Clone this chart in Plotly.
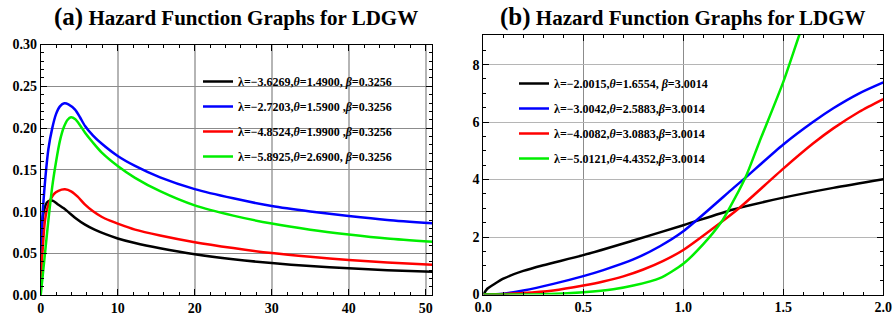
import plotly.graph_objects as go

# ---------------- data ----------------
# Panel (a)
a_black_x = [0, 0.05, 0.15, 0.3, 0.5, 0.8, 1.2, 1.6, 2.2, 3.0, 3.6, 4.5, 5.76, 7.0, 8.5, 10, 12.25, 15.5, 20, 25, 30, 35, 40, 45, 50.85]
a_black_y = [0, 0.05, 0.08, 0.095, 0.104, 0.111, 0.1135, 0.113, 0.109, 0.104, 0.0995, 0.0925, 0.0845, 0.0785, 0.0728, 0.068, 0.0625, 0.0563, 0.0492, 0.0432, 0.0385, 0.0350, 0.0323, 0.0300, 0.0282]

a_blue_x = [0, 0.05, 0.15, 0.3, 0.6, 1.0, 1.5, 2.0, 2.5, 3.07, 3.6, 4.46, 5.1, 5.76, 6.8, 7.9, 10, 12.25, 15.5, 20, 25, 30, 35, 40, 45, 50.85]
a_blue_y = [0, 0.045, 0.08, 0.105, 0.14, 0.175, 0.200, 0.217, 0.226, 0.2297, 0.2285, 0.222, 0.213, 0.2025, 0.191, 0.1815, 0.1666, 0.1547, 0.141, 0.127, 0.116, 0.1068, 0.1003, 0.0949, 0.0902, 0.0861]

a_red_x = [0, 0.1, 0.25, 0.5, 0.8, 1.2, 1.7, 2.3, 3.16, 4.0, 4.8, 5.76, 6.8, 7.9, 9.0, 10, 12.25, 15.5, 20, 25, 30, 35, 40, 45, 50.85]
a_red_y = [0, 0.035, 0.054, 0.085, 0.102, 0.113, 0.121, 0.125, 0.1268, 0.1240, 0.1180, 0.1085, 0.1005, 0.0940, 0.0893, 0.0857, 0.0785, 0.0715, 0.0635, 0.0565, 0.0505, 0.0460, 0.0423, 0.0392, 0.0366]

a_green_x = [0, 0.5, 1.0, 1.5, 2.0, 2.5, 3.0, 3.5, 3.94, 4.5, 5.1, 5.76, 6.8, 7.9, 10, 12.25, 15.5, 20, 25, 30, 35, 40, 45, 50.85]
a_green_y = [0, 0.045, 0.09, 0.13, 0.16, 0.185, 0.201, 0.210, 0.2129, 0.2105, 0.2035, 0.1945, 0.1825, 0.171, 0.1547, 0.1405, 0.1245, 0.1075, 0.0953, 0.0858, 0.0785, 0.0728, 0.0680, 0.0641]

# Panel (b)
b_black_x = [0, 0.02, 0.05, 0.1, 0.2, 0.3, 0.5, 0.75, 1.0, 1.25, 1.5, 1.75, 2.0]
b_black_y = [0, 0.2, 0.34, 0.55, 0.82, 1.02, 1.37, 1.88, 2.41, 2.96, 3.37, 3.71, 4.01]

b_blue_x = [0, 0.1, 0.2, 0.35, 0.5, 0.6, 0.75, 0.883, 1.0, 1.25, 1.31, 1.5, 1.65, 1.75, 1.88, 2.0]
b_blue_y = [0, 0.03, 0.14, 0.37, 0.64, 0.85, 1.22, 1.68, 2.2, 3.70, 4.06, 5.22, 6.01, 6.48, 7.0, 7.38]

b_red_x = [0, 0.2, 0.35, 0.5, 0.6, 0.7, 0.8, 0.9, 1.0, 1.19, 1.28, 1.5, 1.65, 1.75, 1.88, 2.0]
b_red_y = [0, 0.05, 0.14, 0.31, 0.45, 0.63, 0.87, 1.17, 1.55, 2.52, 3.01, 4.38, 5.26, 5.78, 6.36, 6.8]

b_green_x = [0, 0.3, 0.5, 0.65, 0.75, 0.883, 1.0, 1.1, 1.19, 1.22, 1.31, 1.38, 1.5, 1.58, 1.62]
b_green_y = [0, 0.01, 0.08, 0.18, 0.31, 0.57, 1.07, 1.75, 2.52, 2.87, 4.06, 5.3, 7.4, 9.03, 9.8]

a_labels = [
    "λ=−3.6269,<i>θ</i>=1.4900, <i>β</i>=0.3256",
    "λ=−2.7203,<i>θ</i>=1.5900 ,<i>β</i>=0.3256",
    "λ=−4.8524,<i>θ</i>=1.9900 ,<i>β</i>=0.3256",
    "λ=−5.8925,<i>θ</i>=2.6900, <i>β</i>=0.3256",
]
b_labels = [
    "λ=−2.0015,<i>θ</i>=1.6554, <i>β</i>=3.0014",
    "λ=−3.0042,<i>θ</i>=2.5883,<i>β</i>=3.0014",
    "λ=−4.0082,<i>θ</i>=3.0883,<i>β</i>=3.0014",
    "λ=−5.0121,<i>θ</i>=4.4352,<i>β</i>=3.0014",
]
colors = ["#000000", "#0000ff", "#ff0000", "#00ee00"]

a_series = [(a_black_x, a_black_y), (a_blue_x, a_blue_y), (a_red_x, a_red_y), (a_green_x, a_green_y)]
b_series = [(b_black_x, b_black_y), (b_blue_x, b_blue_y), (b_red_x, b_red_y), (b_green_x, b_green_y)]

FONT = "Liberation Serif, Times New Roman, serif"
W, H = 895, 320

fig = go.Figure()
for i, (xs, ys) in enumerate(a_series):
    fig.add_trace(go.Scatter(x=xs, y=ys, mode="lines", name="<b>" + a_labels[i] + "</b>",
                             line=dict(color=colors[i], width=2.5, shape="spline", smoothing=0.7),
                             xaxis="x", yaxis="y", legend="legend", legendgroup="a%d" % i))
for i, (xs, ys) in enumerate(b_series):
    fig.add_trace(go.Scatter(x=xs, y=ys, mode="lines", name="<b>" + b_labels[i] + "</b>",
                             line=dict(color=colors[i], width=2.5, shape="spline", smoothing=0.7),
                             xaxis="x2", yaxis="y2", legend="legend2", legendgroup="b%d" % i))

def px_x(p):
    return p / W

def px_y(p):
    return 1 - p / H

tickfont = dict(family=FONT, size=14, color="black", weight="bold")
common = dict(showline=True, linecolor="black", linewidth=1, mirror="ticks",
              ticks="inside", ticklen=6, tickcolor="black", tickfont=tickfont,
              zeroline=False, showgrid=True, automargin=False)

fig.update_layout(
    width=W, height=H,
    margin=dict(l=0, r=0, t=0, b=0, autoexpand=False),
    paper_bgcolor="white", plot_bgcolor="white",
    font=dict(family=FONT, color="black"),
    xaxis=dict(domain=[px_x(40.7), px_x(432.3)], range=[0, 50.85], dtick=10, tick0=0,
               gridcolor="#b5b5b5", gridwidth=1.5, anchor="y",
               minor=dict(ticks="inside", dtick=2, ticklen=3, tickcolor="black", showgrid=False),
               **common),
    yaxis=dict(domain=[px_y(295.3), px_y(44.5)], range=[0, 0.30], dtick=0.05, tick0=0,
               tickformat=".2f", gridcolor="#8c8c8c", gridwidth=1, anchor="x",
               minor=dict(ticks="inside", dtick=0.01, ticklen=3, tickcolor="black", showgrid=False),
               **common),
    xaxis2=dict(domain=[px_x(483.3), px_x(883.3)], range=[0, 2.0], dtick=0.5, tick0=0,
                tickformat=".1f", gridcolor="#8c8c8c", gridwidth=1, anchor="y2",
                minor=dict(ticks="inside", dtick=0.1, ticklen=3, tickcolor="black", showgrid=False),
                **common),
    yaxis2=dict(domain=[px_y(294.5), px_y(35)], range=[0, 9.03], dtick=2, tick0=0,
                gridcolor="#b5b5b5", gridwidth=1, anchor="x2",
                minor=dict(ticks="inside", dtick=0.5, ticklen=3, tickcolor="black", showgrid=False),
                **common),
    legend=dict(x=px_x(198), y=px_y(67), xanchor="left", yanchor="top",
                bgcolor="rgba(0,0,0,0)", borderwidth=0, traceorder="grouped", tracegroupgap=6,
                font=dict(family=FONT, size=12, color="black")),
    legend2=dict(x=px_x(514), y=px_y(69), xanchor="left", yanchor="top",
                 bgcolor="rgba(0,0,0,0)", borderwidth=0, traceorder="grouped", tracegroupgap=6,
                 font=dict(family=FONT, size=12, color="black")),
    showlegend=True,
)

fig.add_annotation(text="<b><span style='font-size:25px'>(a)</span> Hazard Function Graphs for LDGW</b>",
                   x=px_x(236), y=px_y(17), xref="paper", yref="paper", showarrow=False,
                   xanchor="center", yanchor="middle", font=dict(family=FONT, size=21, color="black"))
fig.add_annotation(text="<b><span style='font-size:25px'>(b)</span> Hazard Function Graphs for LDGW</b>",
                   x=px_x(683), y=px_y(17), xref="paper", yref="paper", showarrow=False,
                   xanchor="center", yanchor="middle", font=dict(family=FONT, size=21, color="black"))

fig.write_html("out.html", config={"displayModeBar": False},
               post_script="document.body.style.margin='0';document.body.style.padding='0';document.body.style.overflow='hidden';")
